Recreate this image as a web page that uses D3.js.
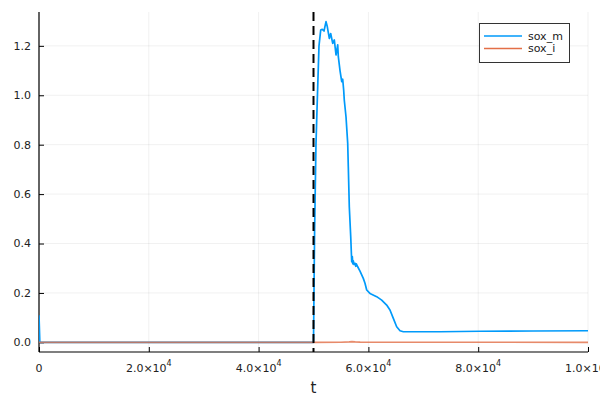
<!DOCTYPE html>
<html>
<head>
<meta charset="utf-8">
<script src="https://cdn.jsdelivr.net/npm/d3@7"></script>
<style>
  html, body { margin: 0; padding: 0; background: #fff; }
  svg { display: block; font-family: "DejaVu Sans", sans-serif; }
</style>
</head>
<body>
<svg id="chart" width="600" height="400"></svg>
<script>
// ---- data ----
const soxMT = [0, 150, 50000, 50200, 50450, 50690, 51000, 51310, 51600, 51910, 52280, 52510, 52880, 53130, 53500, 53790, 54100, 54410, 54520, 54830, 55140, 55320, 55500, 55610, 55920, 56230, 56340, 56520, 56780, 56960, 57070, 57150, 57250, 57400, 57560, 57700, 57800, 58050, 58470, 59070, 59380, 59690, 60290, 61510, 62420, 63330, 63930, 64540, 65150, 65760, 66360, 73040, 80330, 90000, 100000];
const soxMV = [0.11, 0.0, 0.0, 0.45, 0.80, 0.98, 1.20, 1.264, 1.267, 1.26, 1.298, 1.278, 1.23, 1.25, 1.21, 1.224, 1.163, 1.204, 1.156, 1.10, 1.055, 1.065, 1.02, 0.98, 0.913, 0.806, 0.711, 0.549, 0.428, 0.326, 0.347, 0.318, 0.33, 0.315, 0.32, 0.308, 0.318, 0.306, 0.288, 0.259, 0.239, 0.212, 0.198, 0.185, 0.171, 0.151, 0.131, 0.097, 0.063, 0.047, 0.043, 0.043, 0.045, 0.046, 0.047];
const soxIT = [0, 50000, 55000, 56500, 57000, 57600, 58500, 60000, 100000];
const soxIV = [0, 0, 0.0005, 0.002, 0.003, 0.002, 0.001, 0.0005, 0.0003];
const seriesNames = ["sox_m", "sox_i"];
const seriesColors = ["#009AFA", "#E36F47"];
const xTicks = [0, 20000, 40000, 60000, 80000, 100000];
const xTickMant = ["0", "2.0", "4.0", "6.0", "8.0", "1.0"];
const xTickExp = ["", "4", "4", "4", "4", "5"];
const yTicks = [0.0, 0.2, 0.4, 0.6, 0.8, 1.0, 1.2];
const vlineT = [50000];
const xLabel = "t";

// ---- layout ----
const svg = d3.select("#chart");
const L = 39, R = 588, T = 12, B = 352;
const x = d3.scaleLinear().domain([0, 100000]).range([L, R]);
const y = d3.scaleLinear().domain([-0.039, 1.337]).range([B, T]);

// grid
const g = svg.append("g");
g.selectAll(".gx").data(xTicks).enter().append("line")
  .attr("x1", d => x(d)).attr("x2", d => x(d)).attr("y1", T).attr("y2", B)
  .attr("stroke", "#000").attr("stroke-opacity", 0.1).attr("stroke-width", 0.6);
g.selectAll(".gy").data(yTicks).enter().append("line")
  .attr("x1", L).attr("x2", R).attr("y1", d => y(d)).attr("y2", d => y(d))
  .attr("stroke", "#000").attr("stroke-opacity", 0.1).attr("stroke-width", 0.6);

// axes
const xAxis = d3.axisBottom(x).tickValues(xTicks).tickSizeInner(-5).tickSizeOuter(0).tickFormat("");
const yAxis = d3.axisLeft(y).tickValues(yTicks).tickSizeInner(-5).tickSizeOuter(0).tickFormat("");
const gx = svg.append("g").attr("transform", `translate(0,${B})`).call(xAxis);
const gy = svg.append("g").attr("transform", `translate(${L},0)`).call(yAxis);
gx.select(".domain").attr("stroke", "#000").attr("stroke-width", 1.2);
gy.select(".domain").attr("stroke", "#000").attr("stroke-width", 1.2);
gx.selectAll(".tick line").attr("stroke", "#000").attr("stroke-width", 1);
gy.selectAll(".tick line").attr("stroke", "#000").attr("stroke-width", 1);
// restrict domain path to the plot extent
gx.select(".domain").attr("d", `M${L},0H${R}`);
gy.select(".domain").attr("d", `M0,${B}V${T}`);

// y tick labels
svg.selectAll(".yl").data(yTicks).enter().append("text")
  .attr("x", L - 8).attr("y", d => y(d)).attr("dy", "0.35em")
  .attr("text-anchor", "end").attr("font-size", 11).attr("fill", "#222")
  .text(d => d.toFixed(1));

// x tick labels
xTicks.forEach((t, i) => {
  const txt = svg.append("text").attr("x", x(t)).attr("y", 372)
    .attr("text-anchor", "middle").attr("font-size", 11).attr("fill", "#222");
  if (xTickExp[i] === "") {
    txt.text(xTickMant[i]);
  } else {
    txt.append("tspan").text(xTickMant[i] + "×10");
    txt.append("tspan").attr("dy", -6).attr("font-size", 8).text(xTickExp[i]);
  }
});

// x label
svg.append("text").attr("x", (L + R) / 2).attr("y", 393)
  .attr("text-anchor", "middle").attr("font-size", 15).attr("fill", "#222").text(xLabel);

// clip
svg.append("clipPath").attr("id", "clip").append("rect")
  .attr("x", L).attr("y", T).attr("width", R - L).attr("height", B - T);

const line = d3.line().x(d => x(d[0])).y(d => y(d[1]));
const plot = svg.append("g").attr("clip-path", "url(#clip)");

plot.append("path").datum(d3.zip(soxMT, soxMV)).attr("d", line)
  .attr("fill", "none").attr("stroke", seriesColors[0]).attr("stroke-width", 1.7)
  .attr("stroke-linejoin", "round");
plot.append("path").datum(d3.zip(soxIT, soxIV)).attr("d", line)
  .attr("fill", "none").attr("stroke", seriesColors[1]).attr("stroke-width", 1.7)
  .attr("stroke-opacity", 0.8);

// vertical dashed line
plot.selectAll(".vl").data(vlineT).enter().append("line")
  .attr("x1", d => x(d)).attr("x2", d => x(d)).attr("y1", T).attr("y2", B)
  .attr("stroke", "#000").attr("stroke-width", 2).attr("stroke-dasharray", "9,5");

// legend
const lg = svg.append("g");
lg.append("rect").attr("x", 479.5).attr("y", 23.5).attr("width", 90).attr("height", 39)
  .attr("fill", "#fff").attr("stroke", "#333").attr("stroke-width", 1);
seriesNames.forEach((n, i) => {
  const yy = 36 + i * 12.5;
  lg.append("line").attr("x1", 484).attr("x2", 522).attr("y1", yy).attr("y2", yy)
    .attr("stroke", seriesColors[i]).attr("stroke-width", 1.7);
  lg.append("text").attr("x", 528).attr("y", yy).attr("dy", "0.35em")
    .attr("font-size", 11).attr("fill", "#222").text(n);
});
</script>
</body>
</html>
